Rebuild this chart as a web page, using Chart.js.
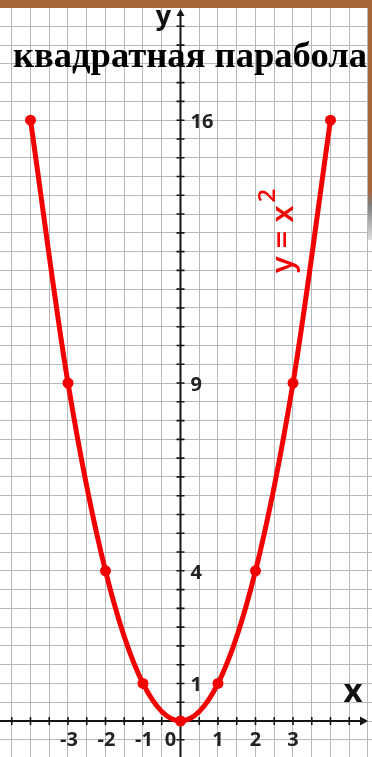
<!DOCTYPE html>
<html><head><meta charset="utf-8">
<script src="https://cdn.jsdelivr.net/npm/chart.js@4"></script>
<style>
html,body{margin:0;padding:0;background:#fff;overflow:hidden;}
#wrap{position:relative;width:372px;height:757px;}
#topbar{position:absolute;left:0;top:0;width:372px;height:8px;background:#a9653a;}
#rightbar{position:absolute;right:0;top:0;width:4px;height:240px;background:linear-gradient(#a9653a 0,#a9653a 190px,#7d7d7d 205px,#e0e0e0 240px);}
#title{position:absolute;left:13px;top:38px;white-space:nowrap;font-family:"Liberation Serif",serif;font-weight:bold;color:#000;line-height:1;font-size:35px;}
</style></head><body>
<div id="wrap"><canvas id="c"></canvas><div id="topbar"></div><div id="rightbar"></div><div id="title">квадратная парабола</div></div>
<script>
// ---- data ----
const titleText = 'квадратная парабола';
const xValues = [-4, -3, -2, -1, 0, 1, 2, 3, 4];
const yValues = [16, 9, 4, 1, 0, 1, 4, 9, 16];
const xTickValues = [-3, -2, -1, 0, 1, 2, 3];
const xTickLabels = ['-3', '-2', '-1', '0', '1', '2', '3'];
const yTickValues = [16, 9, 4, 1];
const yTickLabels = ['16', '9', '4', '1'];
const curveLabel = 'y = x';
const curveLabelPower = '2';
const xAxisName = 'x';
const yAxisName = 'y';

// ---- scale ranges ----
const xMin = -4.8133, xMax = 5.1067, yMin = -0.9587, yMax = 19.201, gridStep = 0.5;
const RED = '#f20000';
const AXIS = '#151515';

// fit title
(function(){
  const el = document.getElementById('title');
  el.textContent = titleText;
  const cv = document.createElement('canvas').getContext('2d');
  cv.font = 'bold 100px "Liberation Serif"';
  const w = cv.measureText(titleText).width;
  const F = 100 * 354 / w;
  el.style.fontSize = F.toFixed(2) + 'px';
  el.style.top = (68 - 0.8375 * F).toFixed(2) + 'px';
})();

const centerAxes = {
  id: 'centerAxes',
  beforeDatasetsDraw(chart) {
    const {ctx, chartArea: a, scales: {x, y}} = chart;
    const ox = x.getPixelForValue(0), oy = y.getPixelForValue(0);
    ctx.save();
    ctx.strokeStyle = AXIS; ctx.fillStyle = AXIS;
    // axis lines
    ctx.lineWidth = 2;
    ctx.beginPath();
    ctx.moveTo(a.left, oy); ctx.lineTo(a.right - 8, oy);
    ctx.moveTo(ox, a.bottom); ctx.lineTo(ox, a.top + 14);
    ctx.stroke();
    // tick marks at library ticks
    ctx.lineWidth = 1.6;
    ctx.beginPath();
    x.ticks.forEach(t => {
      if (Math.abs(t.value) <= 4.5 && t.value !== 0) {
        const px = x.getPixelForValue(t.value);
        ctx.moveTo(px, oy - 4); ctx.lineTo(px, oy + 4);
      }
    });
    y.ticks.forEach(t => {
      if (t.value >= -0.5 && t.value <= 18.5 && t.value !== 0) {
        const py = y.getPixelForValue(t.value);
        ctx.moveTo(ox - 4, py); ctx.lineTo(ox + 4, py);
      }
    });
    ctx.stroke();
    // arrows
    ctx.beginPath();
    ctx.moveTo(a.right - 4, oy); ctx.lineTo(a.right - 12, oy - 4.5); ctx.lineTo(a.right - 12, oy + 4.5); ctx.closePath();
    ctx.moveTo(ox, a.top + 9); ctx.lineTo(ox - 4, a.top + 16); ctx.lineTo(ox + 4, a.top + 16); ctx.closePath();
    ctx.fill();
    // tick labels
    ctx.fillStyle = '#222';
    ctx.font = 'bold 20px "Open Sans"';
    ctx.textAlign = 'center'; ctx.textBaseline = 'middle';
    xTickValues.forEach((v, i) => {
      const px = x.getPixelForValue(v) + (v === 0 ? -10 : 0) + (v < 0 ? 1 : 0);
      ctx.fillText(xTickLabels[i], px, oy + 19);
    });
    ctx.textAlign = 'left';
    yTickValues.forEach((v, i) => {
      ctx.fillText(yTickLabels[i], ox + 10, y.getPixelForValue(v) + 2);
    });
    // axis names
    ctx.fillStyle = '#111';
    ctx.textBaseline = 'alphabetic';
    ctx.textAlign = 'center';
    ctx.font = 'bold 27px "Open Sans"';
    ctx.fillText(yAxisName, ox - 17, a.top + 25);
    ctx.font = 'bold 33px "Open Sans"';
    ctx.fillText(xAxisName, a.right - 19, oy - 19);
    // curve label (rotated)
    ctx.save();
    ctx.fillStyle = RED;
    ctx.translate(x.getPixelForValue(3.0), y.getPixelForValue(11.93));
    ctx.rotate(-Math.PI / 2);
    ctx.textAlign = 'left';
    ctx.font = '600 31px "Open Sans"';
    ctx.fillText(curveLabel, 0, 0);
    const w = ctx.measureText(curveLabel).width;
    ctx.font = '600 24px "Open Sans"';
    ctx.fillText(curveLabelPower, w + 3, -18);
    ctx.restore();
    ctx.restore();
  }
};

new Chart(document.getElementById('c'), {
  type: 'scatter',
  data: {
    datasets: [{
      data: xValues.map((v, i) => ({x: v, y: yValues[i]})),
      showLine: true,
      borderColor: RED,
      backgroundColor: RED,
      borderWidth: 5,
      pointRadius: 5.5,
      pointHoverRadius: 5.5,
      pointBorderWidth: 0,
      cubicInterpolationMode: 'monotone',
      clip: false
    }]
  },
  options: {
    responsive: true,
    maintainAspectRatio: false,
    animation: false,
    events: [],
    layout: {padding: 0, autoPadding: false},
    plugins: {legend: {display: false}, tooltip: {enabled: false}, title: {display: false}},
    scales: {
      x: {
        type: 'linear', min: xMin, max: xMax,
        ticks: {display: false, stepSize: gridStep, includeBounds: false},
        grid: {color: '#b9b9b9', lineWidth: 1, drawTicks: false},
        border: {display: false},
        afterFit: s => { s.height = 0; }
      },
      y: {
        type: 'linear', min: yMin, max: yMax,
        ticks: {display: false, stepSize: gridStep, includeBounds: false},
        grid: {color: '#b9b9b9', lineWidth: 1, drawTicks: false},
        border: {display: false},
        afterFit: s => { s.width = 0; }
      }
    }
  },
  plugins: [centerAxes]
});
</script>
</body></html>
